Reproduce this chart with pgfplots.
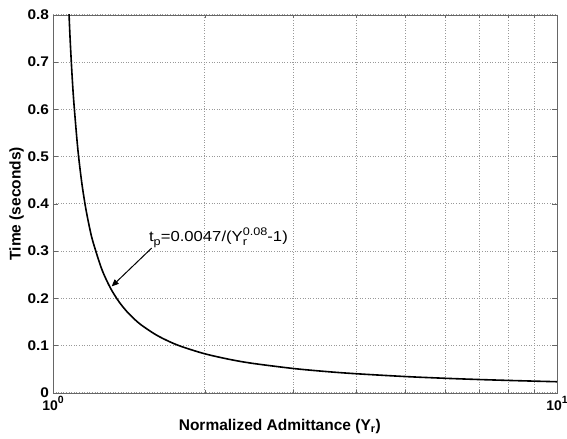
\documentclass[border=0pt]{standalone}
\usepackage{pgfplots}
\pgfplotsset{compat=1.18}
\usepackage{graphicx}
\usetikzlibrary{arrows.meta}
\usepackage{fontspec}
\setmainfont{Liberation Sans}
\newcommand{\tl}[1]{\scalebox{1.1}[1]{#1}}
\begin{document}
\begin{tikzpicture}
\useasboundingbox (-53pt,-46pt) rectangle (514pt,392.7pt);
\begin{axis}[
  scale only axis, width=504pt, height=378pt,
  at={(0,0)}, anchor=south west,
  xmode=log, xmin=1, xmax=10, ymin=0, ymax=0.8,
  ytick={0,0.1,0.2,0.3,0.4,0.5,0.6,0.7,0.8},
  yticklabels={\tl{0},\tl{0.1},\tl{0.2},\tl{0.3},\tl{0.4},\tl{0.5},\tl{0.6},\tl{0.7},\tl{0.8}},
  xtick={1,10},
  xticklabels={10\raisebox{0.95ex}{\fontsize{10.5}{10}\selectfont 0},10\raisebox{0.95ex}{\fontsize{10.5}{10}\selectfont 1}},
  tick label style={font=\fontsize{14}{15}\selectfont\bfseries},
  yticklabel style={xshift=-0.5pt},
  xticklabel style={inner xsep=0pt},
  tick align=inside, major tick length=5pt, minor tick length=3pt,
  xmajorgrids, xminorgrids, ymajorgrids,
  grid style={dash pattern=on 0.8pt off 1.8pt, black!40, line width=0.5pt},
  minor grid style={dash pattern=on 0.8pt off 1.8pt, black!40, line width=0.5pt},
  axis line style={black!60},
  every tick/.style={black!60},
  xlabel={Normalized Admittance (Y\textsubscript{r})},
  ylabel={Time (seconds)},
  label style={font=\fontsize{15.5}{17}\selectfont\bfseries},
  xlabel style={at={(axis description cs:0.45,-0.1005)}, anchor=base},
  ylabel style={at={(axis description cs:-0.0724,0.5)}, anchor=center, rotate=0},
  clip=true,
]
\addplot[black, line width=1.6pt, smooth] table {
x y
1.07 0.866
1.08 0.7610
1.09 0.6794
1.10 0.6141
1.12 0.5161
1.14 0.4460
1.16 0.3935
1.18 0.3526
1.20 0.3199
1.25 0.2610
1.30 0.2216
1.35 0.1934
1.40 0.1723
1.45 0.1558
1.5 0.1426
1.6 0.1227
1.7 0.1084
1.8 0.0976
2.0 0.0824
2.25 0.0701
2.5 0.0618
3 0.0512
3.5 0.0446
4 0.0401
5 0.0342
6 0.0305
7 0.0279
8 0.0260
9 0.0245
10 0.0232
};
\node[anchor=base west, font=\fontsize{14.5}{16}\selectfont, inner sep=0pt] at (axis cs:1.550,0.3196)
  {\scalebox{1.15}[1]{t\raisebox{-0.45ex}{\fontsize{11}{11}\selectfont p}=0.0047/(Y\rlap{\raisebox{-0.45ex}{\fontsize{11}{11}\selectfont r}}\raisebox{0.75ex}{\fontsize{11}{11}\selectfont 0.08}-1)}};
\draw[-{Triangle[length=7pt,width=6pt]}, line width=1pt] (axis cs:1.570,0.3062) -- (axis cs:1.3077,0.225);
\end{axis}
\end{tikzpicture}
\end{document}
